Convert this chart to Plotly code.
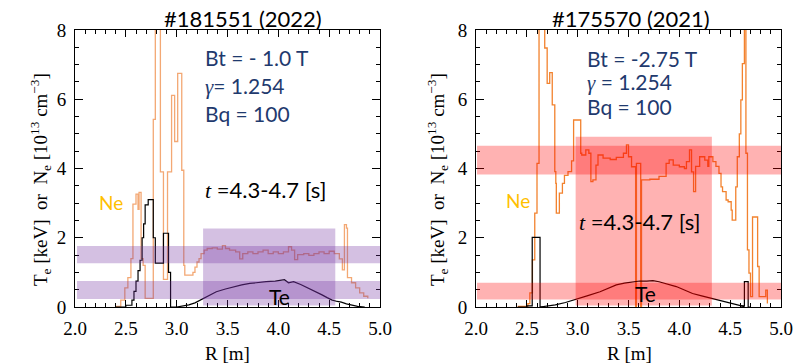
import plotly.graph_objects as go

# ---------------- data ----------------
# Left panel  (#181551, 2022)
ne_left_r = [2.40, 2.45, 2.49, 2.52, 2.55, 2.57, 2.60, 2.62, 2.63, 2.65, 2.67, 2.69, 2.77, 2.79, 2.84,
             2.87, 2.91, 2.95, 2.98, 3.01, 3.05, 3.07, 3.08, 3.16, 3.18, 3.20, 3.22, 3.24, 3.27, 3.30,
             3.35, 3.40, 3.45, 3.48, 3.52, 3.58, 3.62, 3.65, 3.70, 3.75, 3.80, 3.85, 3.90, 3.95, 4.00,
             4.05, 4.10, 4.13, 4.16, 4.19, 4.25, 4.30, 4.35, 4.40, 4.45, 4.50, 4.55, 4.60, 4.63, 4.65,
             4.67, 4.68, 4.72, 4.76, 4.80, 4.84, 4.88]
ne_left_v = [0.02, 0.20, 0.55, 0.85, 1.40, 2.97, 3.26, 2.82, 3.31, 1.40, 1.20, 0.25, 5.42, 9.00, 3.90,
             0.80, 3.90, 6.11, 4.78, 6.75, 3.95, 1.20, 0.92, 1.00, 1.15, 1.30, 1.40, 1.54, 1.64, 1.69,
             1.71, 1.67, 1.77, 1.69, 1.64, 1.59, 1.39, 1.54, 1.59, 1.54, 1.59, 1.64, 1.54, 1.59, 1.54,
             1.59, 1.74, 1.64, 1.37, 1.51, 1.54, 1.49, 1.54, 1.59, 1.54, 1.61, 1.54, 1.39, 1.07, 2.38,
             2.28, 0.85, 0.70, 0.55, 0.41, 0.31, 0.25]

te_left_edge_r = [2.40, 2.50, 2.56, 2.58, 2.60, 2.62, 2.64, 2.66, 2.675, 2.69, 2.72, 2.77, 2.79, 2.87,
                  2.92, 2.94, 3.00]
te_left_edge_v = [0.00, 0.05, 0.20, 0.45, 0.75, 1.05, 1.35, 2.00, 2.40, 2.95, 3.10, 2.00, 1.27, 2.13,
                  1.00, 0.00, 0.00]
te_left_core_r = [3.00, 3.06, 3.12, 3.18, 3.23, 3.30, 3.39, 3.48, 3.56, 3.64, 3.72, 3.80, 3.88, 3.97,
                  4.06, 4.10, 4.15, 4.22, 4.30, 4.37, 4.43, 4.48, 4.53, 4.58, 4.62, 4.67, 4.72, 4.78,
                  4.85]
te_left_core_v = [0.00, 0.03, 0.06, 0.12, 0.20, 0.32, 0.44, 0.52, 0.59, 0.64, 0.68, 0.71, 0.73, 0.75,
                  0.79, 0.70, 0.73, 0.65, 0.54, 0.45, 0.35, 0.27, 0.20, 0.16, 0.14, 0.09, 0.05, 0.02,
                  0.00]

# Right panel (#175570, 2021)
ne_right_r = [2.41, 2.51, 2.53, 2.555, 2.578, 2.60, 2.62, 2.676, 2.70, 2.725, 2.75, 2.775, 2.785,
              2.79, 2.82, 2.85, 2.87, 2.905, 2.94, 2.96, 3.03, 3.04, 3.08, 3.11, 3.13, 3.15, 3.18,
              3.20, 3.25, 3.32, 3.38, 3.45, 3.48, 3.50, 3.53, 3.57, 3.578, 3.62, 3.628, 3.71, 3.80,
              3.87, 3.90, 3.94, 4.00, 4.05, 4.07, 4.10, 4.12, 4.14, 4.16, 4.20, 4.25, 4.28, 4.29,
              4.33, 4.36, 4.39, 4.41, 4.425, 4.46, 4.48, 4.51, 4.52, 4.54, 4.555, 4.57, 4.59, 4.605,
              4.62, 4.64, 4.655, 4.67, 4.685, 4.70, 4.72, 4.77, 4.785, 4.85, 4.866]
ne_right_v = [0.02, 0.10, 0.41, 1.36, 2.71, 4.15, 9.00, 7.48, 6.46, 6.77, 5.84, 3.91, 3.57,
              2.71, 3.29, 3.57, 3.80, 3.91, 4.22, 5.40, 4.44, 4.39, 4.54, 4.44, 3.62, 3.67, 4.10,
              4.39, 4.30, 4.26, 4.32, 4.44, 4.68, 4.34, 4.05, -0.30, 4.15, -0.30, 3.67, 3.69, 3.77,
              4.15, 4.25, 4.10, 4.05, 4.00, 4.20, 4.54, 3.90, 3.33, 4.06, 4.34, 4.24, 4.06, 4.34,
              4.20, 4.06, 3.86, 3.47, 3.33, 3.09, 3.04, 2.80, 2.51, 2.51, 3.47, 4.34, 5.00, 5.98,
              7.03, 9.00, 4.44, 1.65, 0.98, 0.30, 2.60, 1.17, 0.30, 0.49, 0.10]

te_right_edge_r = [2.41, 2.50, 2.553, 2.63, 2.66, None, 4.60, 4.64, 4.677, 4.70]
te_right_edge_v = [0.00, 0.03, 2.01, 0.00, 0.00, None, 0.03, 0.73, 0.00, 0.00]
te_right_core_r = [2.63, 2.66, 2.78, 2.88, 2.99, 3.10, 3.22, 3.30, 3.38, 3.46, 3.54, 3.61, 3.68, 3.74,
                   3.80, 3.88, 3.97, 4.05, 4.13, 4.22, 4.32, 4.42, 4.52, 4.58, 4.64]
te_right_core_v = [0.00, 0.01, 0.06, 0.13, 0.22, 0.33, 0.44, 0.54, 0.64, 0.69, 0.73, 0.75, 0.75, 0.76,
                   0.73, 0.67, 0.59, 0.49, 0.39, 0.32, 0.25, 0.17, 0.10, 0.05, 0.01]

# Highlight regions: [x0, x1, y0, y1]
left_bands = [[2.02, 5.0, 1.26, 1.76], [2.02, 5.0, 0.23, 0.75]]
left_window = [3.26, 4.56, 0.04, 2.27]
right_bands = [[2.01, 5.0, 3.83, 4.66], [2.01, 5.0, 0.22, 0.70]]
right_window = [2.98, 4.32, 0.04, 4.92]

titles = ["#181551 (2022)", "#175570 (2021)"]
GAM = '<i><span style="font-family:Liberation Serif">γ</span></i>'
params_left = ["Bt = - 1.0 T", GAM + "= 1.254", "Bq = 100"]
params_right = ["Bt = -2.75 T", GAM + " = 1.254", "Bq = 100"]
time_text = '<i><span style="font-family:Liberation Serif">t</span></i> =4.3-4.7 [s]'
x_ticks = [2.0, 2.5, 3.0, 3.5, 4.0, 4.5, 5.0]
y_ticks = [0, 2, 4, 6, 8]

# ---------------- figure ----------------
W, H = 797, 364
fig = go.Figure()

NE_L = "#F3A874"
NE_R = "#F2822E"

fig.add_trace(go.Scatter(x=ne_left_r, y=ne_left_v, mode="lines", line=dict(color=NE_L, width=1.3, shape="hv"),
                         xaxis="x", yaxis="y", showlegend=False))
fig.add_trace(go.Scatter(x=te_left_edge_r, y=te_left_edge_v, mode="lines", line=dict(color="black", width=1.2, shape="hv"),
                         xaxis="x", yaxis="y", showlegend=False))
fig.add_trace(go.Scatter(x=te_left_core_r, y=te_left_core_v, mode="lines", line=dict(color="black", width=1.2),
                         xaxis="x", yaxis="y", showlegend=False))

fig.add_trace(go.Scatter(x=ne_right_r, y=ne_right_v, mode="lines", line=dict(color=NE_R, width=1.3, shape="hv"),
                         xaxis="x2", yaxis="y2", showlegend=False))
fig.add_trace(go.Scatter(x=te_right_edge_r, y=te_right_edge_v, mode="lines", line=dict(color="black", width=1.2, shape="hv"),
                         xaxis="x2", yaxis="y2", showlegend=False, connectgaps=False))
fig.add_trace(go.Scatter(x=te_right_core_r, y=te_right_core_v, mode="lines", line=dict(color="black", width=1.2),
                         xaxis="x2", yaxis="y2", showlegend=False))

shapes = []
PURPLE = "rgba(112,48,160,0.30)"
RED = "rgba(255,0,0,0.30)"
for b in left_bands + [left_window]:
    shapes.append(dict(type="rect", xref="x", yref="y", x0=b[0], x1=b[1], y0=b[2], y1=b[3],
                       fillcolor=PURPLE, line=dict(width=0), layer="above"))
for b in right_bands + [right_window]:
    shapes.append(dict(type="rect", xref="x2", yref="y2", x0=b[0], x1=b[1], y0=b[2], y1=b[3],
                       fillcolor=RED, line=dict(width=0), layer="above"))

SERIF = "Liberation Serif, Times New Roman, serif"
SANS = "Lato, sans-serif"
NAVY = "#1F3A6E"

ax_common = dict(showline=True, linecolor="black", linewidth=1, mirror="allticks", ticks="inside",
                 showgrid=False, zeroline=False, tickcolor="black", automargin=False,
                 tickfont=dict(family=SERIF, size=19, color="black"))
xcommon = dict(ax_common, range=[2.0, 5.0], tickvals=x_ticks, ticktext=[f"{v:.1f}" for v in x_ticks],
               ticklen=7, minor=dict(ticks="inside", dtick=0.1, ticklen=4, tickcolor="black"),
               ticklabelstandoff=4)
ycommon = dict(ax_common, range=[0, 8], tickvals=y_ticks, ticklen=8,
               minor=dict(ticks="inside", dtick=0.5, ticklen=4, tickcolor="black"),
               ticklabelstandoff=4)

fig.update_layout(
    width=W, height=H, margin=dict(l=0, r=0, t=0, b=0, pad=0, autoexpand=False),
    paper_bgcolor="white", plot_bgcolor="white",
    font=dict(family=SERIF),
    xaxis=dict(xcommon, domain=[75 / W, 380 / W], anchor="y"),
    yaxis=dict(ycommon, domain=[57 / H, 334 / H], anchor="x"),
    xaxis2=dict(xcommon, domain=[476 / W, 781 / W], anchor="y2"),
    yaxis2=dict(ycommon, domain=[57 / H, 334 / H], anchor="x2"),
    shapes=shapes,
)

ann = []
# titles
for t, xp in zip(titles, (243, 631)):
    ann.append(dict(text=t, x=xp / W, y=1 - 18 / H, xref="paper", yref="paper", showarrow=False,
                    font=dict(family=SANS, size=22, color="black"), xanchor="center", yanchor="middle"))
# y-axis titles
ytitle = "T<sub>e</sub> [keV]  or  N<sub>e</sub> [10<sup>13</sup> cm<sup>−3</sup>]"
for xp in (40, 437):
    ann.append(dict(text=ytitle, x=xp / W, y=1 - 180 / H, xref="paper", yref="paper", showarrow=False,
                    textangle=-90, font=dict(family=SERIF, size=19, color="black"),
                    xanchor="center", yanchor="middle"))
# x-axis titles
for xp in (227, 629):
    ann.append(dict(text="R [m]", x=xp / W, y=1 - 353 / H, xref="paper", yref="paper", showarrow=False,
                    font=dict(family=SERIF, size=19, color="black"), xanchor="center", yanchor="middle"))

# parameter text
for txt, yv in zip(params_left, [7.2, 6.37, 5.6]):
    ann.append(dict(text=txt, x=3.26, y=yv, xref="x", yref="y", showarrow=False, xanchor="left",
                    yanchor="middle", font=dict(family=SANS, size=21, color=NAVY)))
for txt, yv in zip(params_right, [7.19, 6.51, 5.79]):
    ann.append(dict(text=txt, x=3.07, y=yv, xref="x2", yref="y2", showarrow=False, xanchor="left",
                    yanchor="middle", font=dict(family=SANS, size=21, color=NAVY)))

# time text
ann.append(dict(text=time_text, x=3.26, y=3.38, xref="x", yref="y", showarrow=False, xanchor="left",
                yanchor="middle", font=dict(family=SANS, size=22, color="black")))
ann.append(dict(text=time_text, x=2.99, y=2.47, xref="x2", yref="y2", showarrow=False, xanchor="left",
                yanchor="middle", font=dict(family=SANS, size=22, color="black")))

# Ne / Te labels
ann.append(dict(text="Ne", x=2.22, y=3.03, xref="x", yref="y", showarrow=False, xanchor="left",
                yanchor="middle", font=dict(family=SANS, size=19, color="#FFC000")))
ann.append(dict(text="Ne", x=2.28, y=3.09, xref="x2", yref="y2", showarrow=False, xanchor="left",
                yanchor="middle", font=dict(family=SANS, size=19, color="#FFC000")))
ann.append(dict(text="Te", x=3.89, y=0.29, xref="x", yref="y", showarrow=False, xanchor="left",
                yanchor="middle", font=dict(family=SANS, size=21, color="black")))
ann.append(dict(text="Te", x=3.54, y=0.40, xref="x2", yref="y2", showarrow=False, xanchor="left",
                yanchor="middle", font=dict(family=SANS, size=21, color="black")))

fig.update_layout(annotations=ann)

fig.write_html("out.html", config={"displayModeBar": False},
               post_script="document.body.style.margin='0';document.body.style.overflow='hidden';")
